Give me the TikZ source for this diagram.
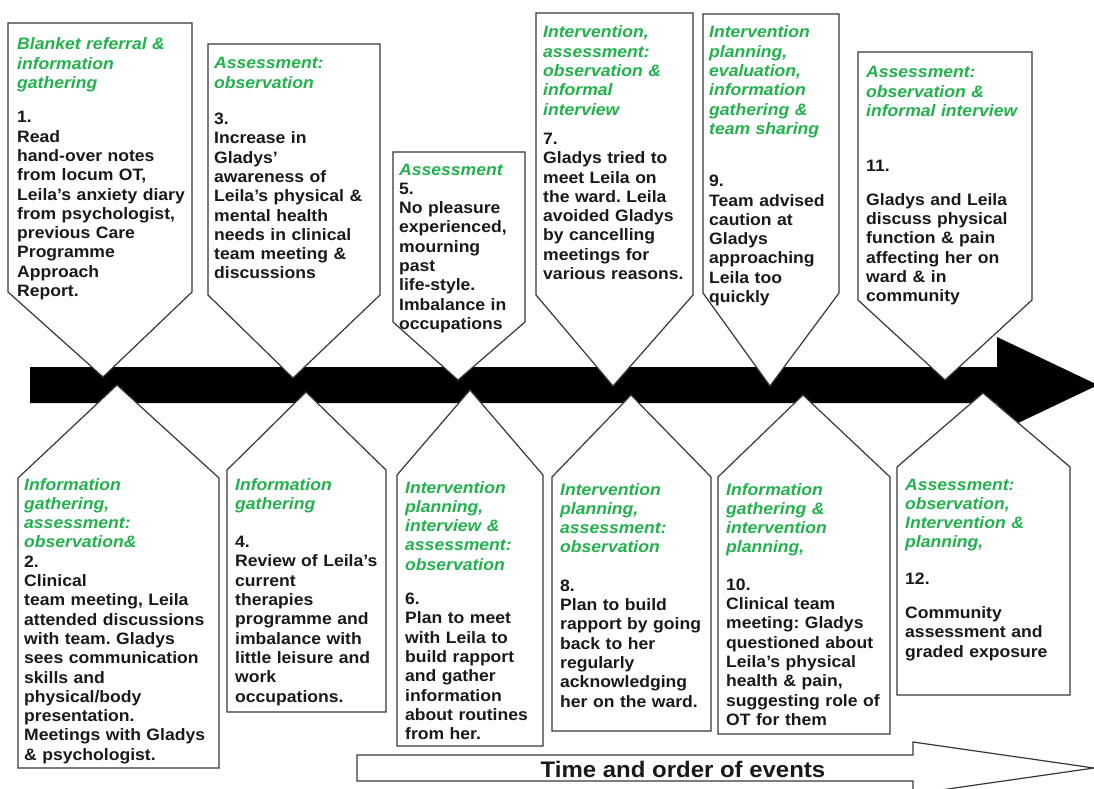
\documentclass[tikz,border=0pt]{standalone}
\usepackage{fontspec}
\setmainfont{Liberation Sans}[FakeStretch=1.065]
\frenchspacing
\definecolor{headgreen}{RGB}{34,177,76}
\definecolor{boxline}{RGB}{55,55,55}
\definecolor{bodyink}{RGB}{25,25,25}
\newcommand\hd{\color{headgreen}\itshape}
% stage box pointing down onto the time line: left, right, top, shoulder, tip x, tip y
\newcommand\pentdown[6]{\fill[white] (#1,#3) -- (#2,#3) -- (#2,#4) -- (#5,#6) -- (#1,#4) -- cycle;
  \draw[stagebox] (#1,#3) -- (#2,#3) -- (#2,#4) -- (#5,#6) -- (#1,#4) -- cycle;}
% stage box pointing up to the time line: left, right, bottom, shoulder, apex x, apex y
\newcommand\pentup[6]{\fill[white] (#1,#3) -- (#2,#3) -- (#2,#4) -- (#5,#6) -- (#1,#4) -- cycle;
  \draw[stagebox] (#1,#3) -- (#2,#3) -- (#2,#4) -- (#5,#6) -- (#1,#4) -- cycle;}
\begin{document}
\begin{tikzpicture}[x=1pt,y=-1pt,
  stagebox/.style={draw=boxline, line width=1.2pt, line join=miter},
  stagetext/.style={anchor=base west, inner sep=0pt, text width=195pt, align=left,
    text=bodyink, font=\fontsize{16.5}{19.3}\selectfont\bfseries},
]
\useasboundingbox (0,0) rectangle (1094,789);

% main time line
\fill[black] (30,367) -- (997,367) -- (997,337) -- (1098,385) -- (997,433) -- (997,403) -- (30,403) -- cycle;

% stages above the line
\pentdown{8}{192}{23}{292}{103}{377}
\pentdown{208}{380}{44}{295}{293}{378}
\pentdown{393}{525}{152}{322}{458}{380}
\pentdown{536}{693}{13}{295}{613}{386}
\pentdown{703}{839}{14}{293}{770}{386}
\pentdown{858}{1032}{52}{300}{945}{380}

% stages below the line
\pentup{18}{219}{768}{478}{117}{385}
\pentup{227}{386}{712}{470}{306}{392}
\pentup{397}{543}{746}{475}{470}{390}
\pentup{552}{711}{731}{477}{631}{395}
\pentup{718}{890}{734}{477}{803}{395}
\pentup{897}{1070}{695}{467}{983}{393}

% stage texts
\node[stagetext] (t1) at (17,50) {{\hd Blanket referral \&\\information\\gathering}\\[15pt]
  1.\\Read\\hand-over notes\\from locum OT,\\Leila's anxiety diary\\from psychologist,\\previous Care\\Programme\\Approach\\Report.};
\node[stagetext] (t3) at (214,69) {{\hd Assessment:\\observation}\\[17pt]
  3.\\Increase in\\Gladys'\\awareness of\\Leila's physical \&\\mental health\\needs in clinical\\team meeting \&\\discussions};
\node[stagetext] (t5) at (399,175) {{\hd Assessment}\\
  5.\\No pleasure\\experienced,\\mourning\\past\\life-style.\\Imbalance in\\occupations};
\node[stagetext] (t7) at (543,38) {{\hd Intervention,\\assessment:\\observation \&\\informal\\interview}\\[10pt]
  7.\\Gladys tried to\\meet Leila on\\the ward. Leila\\avoided Gladys\\by cancelling\\meetings for\\various reasons.};
\node[stagetext] (t9) at (709,38) {{\hd Intervention\\planning,\\evaluation,\\information\\gathering \&\\team sharing}\\[33pt]
  9.\\Team advised\\caution at\\Gladys\\approaching\\Leila too\\quickly};
\node[stagetext] (t11) at (866,78) {{\hd Assessment:\\observation \&\\informal interview}\\[36pt]
  11.\\[14pt]Gladys and Leila\\discuss physical\\function \& pain\\affecting her on\\ward \& in\\community};

\node[stagetext] (t2) at (24,490) {{\hd Information\\gathering,\\assessment:\\observation\&}\\
  2.\\Clinical\\team meeting, Leila\\attended discussions\\with team. Gladys\\sees communication\\skills and\\physical/body\\presentation.\\Meetings with Gladys\\\& psychologist.};
\node[stagetext] (t4) at (235,490) {{\hd Information\\gathering}\\[19pt]
  4.\\Review of Leila's\\current\\therapies\\programme and\\imbalance with\\little leisure and\\work\\occupations.};
\node[stagetext] (t6) at (405,493) {{\hd Intervention\\planning,\\interview \&\\assessment:\\observation}\\[15pt]
  6.\\Plan to meet\\with Leila to\\build rapport\\and gather\\information\\about routines\\from her.};
\node[stagetext] (t8) at (560,495) {{\hd Intervention\\planning,\\assessment:\\observation}\\[19pt]
  8.\\Plan to build\\rapport by going\\back to her\\regularly\\acknowledging\\her on the ward.};
\node[stagetext] (t10) at (726,495) {{\hd Information\\gathering \&\\intervention\\planning,}\\[18pt]
  10.\\Clinical team\\meeting: Gladys\\questioned about\\Leila's physical\\health \& pain,\\suggesting role of\\OT for them};
\node[stagetext] (t12) at (905,490) {{\hd Assessment:\\observation,\\Intervention \&\\planning,}\\[17pt]
  12.\\[15pt]Community\\assessment and\\graded exposure};

% outlined arrow with the axis caption
\draw[stagebox, fill=white] (357,755) -- (913,755) -- (913,742) -- (1094,768) -- (913,794) -- (913,781) -- (357,781) -- cycle;
\node[anchor=base, inner sep=0pt, text=bodyink, font=\fontsize{22.5}{26}\selectfont\bfseries] (axis) at (683,777) {Time and order of events};
\end{tikzpicture}
\end{document}
